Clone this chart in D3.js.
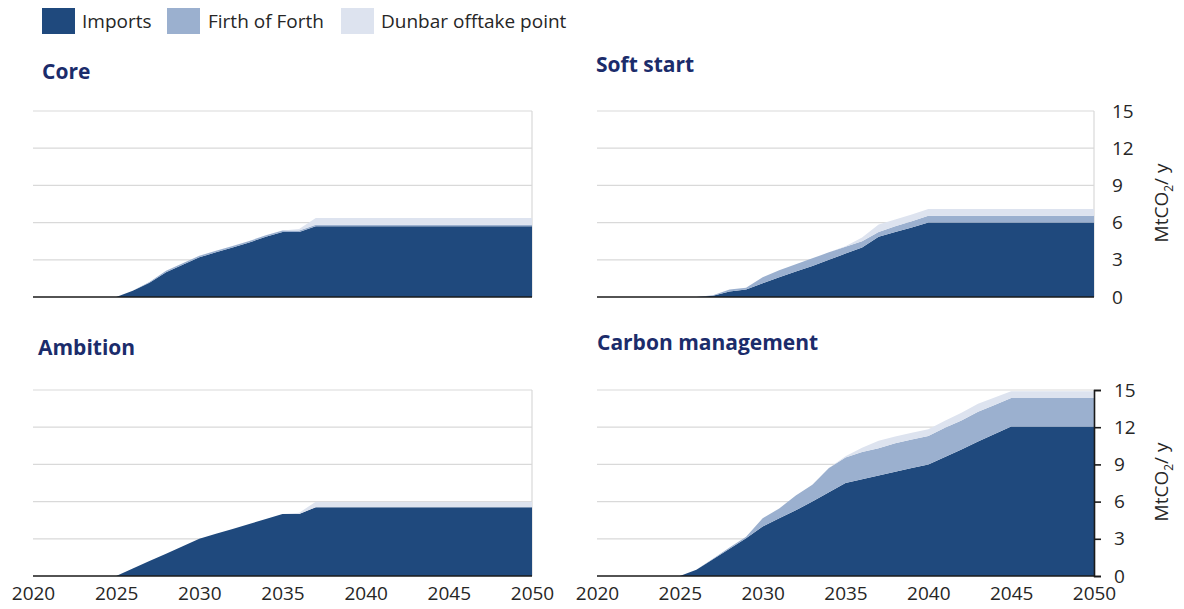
<!DOCTYPE html>
<html>
<head>
<meta charset="utf-8">
<script src="https://cdn.jsdelivr.net/npm/d3@7"></script>
<style>
  html, body { margin: 0; padding: 0; background: #fff; }
  svg { display: block; font-family: "Open Sans", "Noto Sans", sans-serif; }
</style>
</head>
<body>
<svg id="chart" width="1184" height="609"></svg>
<script>
const years = d3.range(2020, 2051);
const seriesKeys = ["Imports", "Firth of Forth", "Dunbar offtake point"];
const seriesColors = ["#1F497D", "#9BB0CF", "#DDE3EF"];
const xTicks = [2020, 2025, 2030, 2035, 2040, 2045, 2050];
const yTicks = [0, 3, 6, 9, 12, 15];

// values per year 2020..2050
const coreImports = [0,0,0,0,0,0, 0.5,1.15,2.0,2.6,3.2,3.6,4.0,4.4,4.85,5.25,5.25,5.7,5.7,5.7,5.7,5.7,5.7,5.7,5.7,5.7,5.7,5.7,5.7,5.7,5.7];
const coreFirth   = [0,0,0,0,0,0, 0,0.05,0.12,0.12,0.12,0.12,0.12,0.12,0.12,0.12,0.12,0.12,0.12,0.12,0.12,0.12,0.12,0.12,0.12,0.12,0.12,0.12,0.12,0.12,0.12];
const coreDunbar  = [0,0,0,0,0,0, 0,0,0,0,0,0,0,0,0,0,0.12,0.55,0.55,0.55,0.55,0.55,0.55,0.55,0.55,0.55,0.55,0.55,0.55,0.55,0.55];

const softImports = [0,0,0,0,0,0, 0,0.1,0.45,0.6,1.1,1.6,2.05,2.5,3.0,3.5,4.0,4.85,5.25,5.6,6.0,6.0,6.0,6.0,6.0,6.0,6.0,6.0,6.0,6.0,6.0];
const softFirth   = [0,0,0,0,0,0, 0,0.05,0.15,0.15,0.5,0.55,0.6,0.62,0.6,0.55,0.5,0.4,0.45,0.5,0.55,0.55,0.55,0.55,0.55,0.55,0.55,0.55,0.55,0.55,0.55];
const softDunbar  = [0,0,0,0,0,0, 0,0,0,0,0,0,0,0,0,0.05,0.3,0.6,0.55,0.55,0.55,0.55,0.55,0.55,0.55,0.55,0.55,0.55,0.55,0.55,0.55];

const ambImports = [0,0,0,0,0,0, 0.6,1.2,1.8,2.4,3.0,3.4,3.8,4.2,4.6,5.0,5.0,5.55,5.55,5.55,5.55,5.55,5.55,5.55,5.55,5.55,5.55,5.55,5.55,5.55,5.55];
const ambFirth   = [0,0,0,0,0,0, 0,0,0,0,0,0,0,0,0,0,0,0,0,0,0,0,0,0,0,0,0,0,0,0,0];
const ambDunbar  = [0,0,0,0,0,0, 0,0,0,0,0,0,0,0,0,0,0.1,0.43,0.43,0.43,0.43,0.43,0.43,0.43,0.43,0.43,0.43,0.43,0.43,0.43,0.43];

const cmImports = [0,0,0,0,0,0, 0.5,1.35,2.2,3.05,4.0,4.65,5.3,6.0,6.75,7.5,7.8,8.1,8.4,8.7,9.0,9.6,10.2,10.85,11.45,12.05,12.05,12.05,12.05,12.05,12.05];
const cmFirth   = [0,0,0,0,0,0, 0,0.05,0.1,0.12,0.65,0.8,1.2,1.35,1.95,2.05,2.2,2.2,2.3,2.3,2.3,2.35,2.35,2.4,2.35,2.3,2.3,2.3,2.3,2.3,2.3];
const cmDunbar  = [0,0,0,0,0,0, 0,0,0,0,0,0,0,0,0,0.1,0.35,0.6,0.55,0.55,0.53,0.58,0.62,0.65,0.6,0.54,0.54,0.54,0.54,0.54,0.54];

const panelTitles = ["Core", "Soft start", "Ambition", "Carbon management"];

const panels = [
  { title: panelTitles[0], imp: coreImports, firth: coreFirth, dun: coreDunbar, x0: 33, x1: 532, yb: 297, yt: 111, tx: 42, ty: 79, right: false, bottom: false },
  { title: panelTitles[1], imp: softImports, firth: softFirth, dun: softDunbar, x0: 597, x1: 1094, yb: 297, yt: 111, tx: 596, ty: 72, right: true, bottom: false },
  { title: panelTitles[2], imp: ambImports, firth: ambFirth, dun: ambDunbar, x0: 33, x1: 532, yb: 576, yt: 390, tx: 38, ty: 355, right: false, bottom: true },
  { title: panelTitles[3], imp: cmImports, firth: cmFirth, dun: cmDunbar, x0: 597, x1: 1094, yb: 576, yt: 390, tx: 597, ty: 350, right: true, bottom: true }
];

const svg = d3.select("#chart");
const FONT = "'Open Sans', 'Noto Sans', sans-serif";

// Legend
const legend = svg.append("g");
const legendItems = [
  { x: 42, tx: 82 },
  { x: 167, tx: 208 },
  { x: 341, tx: 381 }
];
seriesKeys.forEach((k, i) => {
  legend.append("rect").attr("x", legendItems[i].x).attr("y", 8).attr("width", 33).attr("height", 26)
    .attr("fill", seriesColors[i]);
  legend.append("text").attr("x", legendItems[i].tx).attr("y", 28).attr("font-size", 19)
    .attr("fill", "#262626").text(k);
});

panels.forEach(p => {
  const g = svg.append("g");
  const x = d3.scaleLinear().domain([2020, 2050]).range([p.x0, p.x1]);
  const y = d3.scaleLinear().domain([0, 15]).range([p.yb, p.yt]);

  g.selectAll(".grid").data(yTicks.filter(t => t > 0)).enter().append("line")
    .attr("x1", p.x0).attr("x2", p.x1)
    .attr("y1", d => y(d)).attr("y2", d => y(d))
    .attr("stroke", "#D9D9D9").attr("stroke-width", 1.2);
  g.append("line").attr("x1", p.x1).attr("x2", p.x1).attr("y1", y(15)).attr("y2", y(0))
    .attr("stroke", "#D9D9D9").attr("stroke-width", 1.2);

  const data = years.map((yr, i) => ({
    year: yr,
    "Imports": p.imp[i],
    "Firth of Forth": p.firth[i],
    "Dunbar offtake point": p.dun[i]
  }));
  const stacked = d3.stack().keys(seriesKeys)(data);
  const area = d3.area()
    .x(d => x(d.data.year))
    .y0(d => y(d[0]))
    .y1(d => y(d[1]));
  g.selectAll(".layer").data(stacked).enter().append("path")
    .attr("d", area)
    .attr("fill", (d, i) => seriesColors[i]);

  g.append("line").attr("x1", p.x0).attr("x2", p.x1).attr("y1", y(0)).attr("y2", y(0))
    .attr("stroke", "#1a1a1a").attr("stroke-width", 1.6);

  svg.append("text").attr("x", p.tx).attr("y", p.ty).attr("font-size", 21).attr("font-weight", "bold")
    .attr("fill", "#1B2C6B").text(p.title);

  if (p.bottom) {
    const xa = d3.axisBottom(x).tickValues(xTicks).tickFormat(d3.format("d")).tickSize(0).tickPadding(11);
    const ga = svg.append("g").attr("transform", `translate(0,${p.yb})`).call(xa);
    ga.select(".domain").remove();
    ga.selectAll("text").attr("font-size", 19).attr("fill", "#262626").attr("font-family", FONT);
  }

  if (p.right) {
    const ya = d3.axisRight(y).tickValues(yTicks).tickSizeOuter(0)
      .tickSize(p.bottom ? 7 : 0).tickPadding(p.bottom ? 13 : 18);
    const gy = svg.append("g").attr("transform", `translate(${p.x1},0)`).call(ya);
    if (p.bottom) {
      gy.select(".domain").attr("stroke", "#1a1a1a").attr("stroke-width", 1.6);
      gy.selectAll(".tick line").attr("stroke", "#1a1a1a").attr("stroke-width", 1.6);
    } else {
      gy.select(".domain").remove();
    }
    gy.selectAll("text").attr("font-size", 19).attr("fill", "#262626").attr("font-family", FONT);

    const ym = (p.yb + p.yt) / 2;
    const t = svg.append("text").attr("transform", `translate(1168,${ym - 1}) rotate(-90)`)
      .attr("text-anchor", "middle").attr("font-size", 19).attr("fill", "#262626");
    t.append("tspan").text("MtCO");
    t.append("tspan").attr("font-size", 12).attr("dy", 5).text("2");
    t.append("tspan").attr("dy", -5).text("/ y");
  }
});
</script>
</body>
</html>
